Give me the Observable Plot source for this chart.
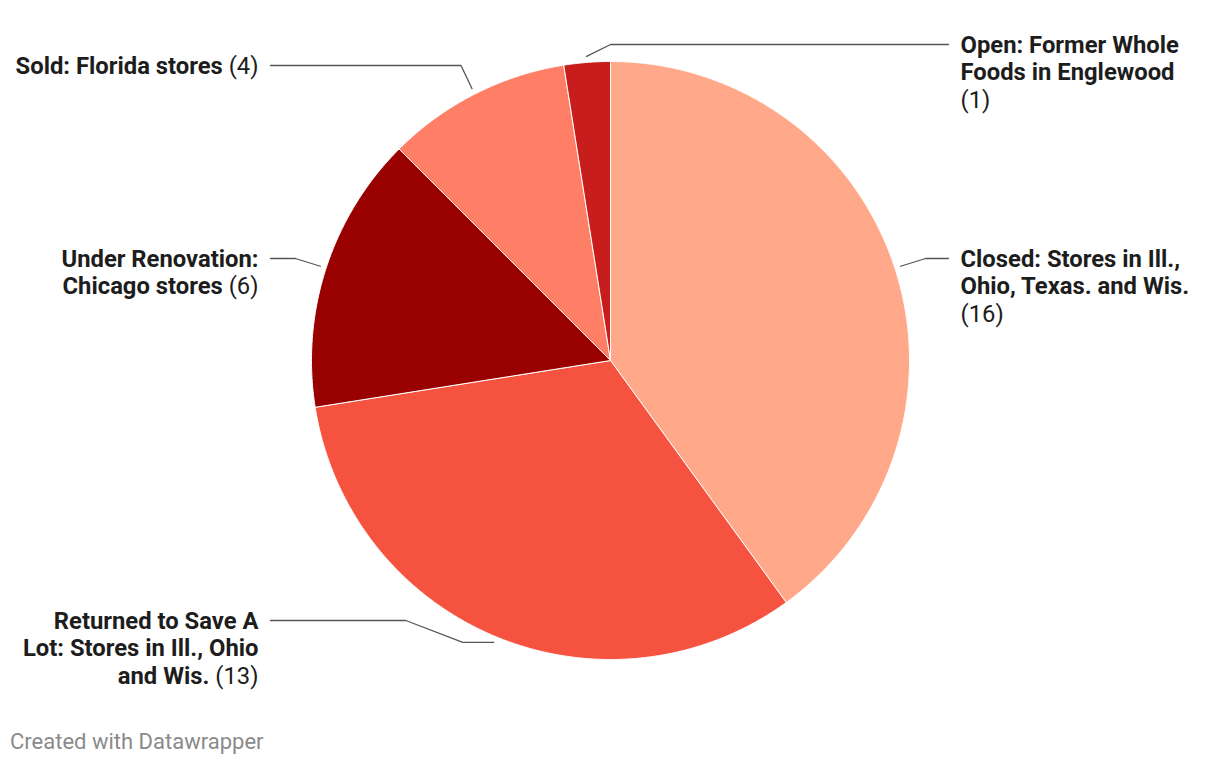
<!DOCTYPE html>
<html><head><meta charset="utf-8">
<script src="https://cdn.jsdelivr.net/npm/d3@7"></script>
<script src="https://cdn.jsdelivr.net/npm/@observablehq/plot@0.6"></script>
<style>
html,body{margin:0;padding:0;background:#fff;}
#wrap{position:relative;width:1220px;height:766px;font-family:Roboto,sans-serif;}
#caption{position:absolute;left:10px;top:729px;font-size:22px;line-height:26px;color:#8a8a8a;font-family:Roboto,sans-serif;}
</style></head><body>
<div id="wrap"><div id="chart"></div><div id="caption">Created with Datawrapper</div></div>
<script>
// ---- data ----
const categories = [
  "Closed: Stores in Ill.,\nOhio, Texas. and Wis.",
  "Returned to Save A\nLot: Stores in Ill., Ohio\nand Wis.",
  "Under Renovation:\nChicago stores",
  "Sold: Florida stores",
  "Open: Former Whole\nFoods in Englewood"
];
const values = [16, 13, 6, 4, 1];
const valueOnNewLine = [true, false, false, false, true];
const colors = ["#ffa88a", "#f5533f", "#990000", "#ff7e66", "#c71e1d"];

// ---- layout ----
const W = 1220, H = 726, cx = 610, cy = 360, R = 299;
const side = ["right", "left", "left", "left", "right"];
const labelY = [258, 620, 258, 65, 44];
const leaderStub = [0, 31, 0, 0, 0];       // horizontal stub from pie edge before bending
const leaderBend = [25, 57, 25, 11, 24];   // horizontal extent of the bend
const rightLineEnd = 948, leftLineEnd = 270, rightTextX = 960, leftTextX = 258;
const fontSize = 23.8, lineGap = 28;

const rows = categories.map((c, i) => ({
  category: c, value: values[i], color: colors[i], side: side[i],
  label: c + (valueOnNewLine[i] ? "\n" : " ") + "(" + values[i] + ")"
}));
const arcs = d3.pie().sort(null).value(d => d.value)(rows);

const polar = (a, r) => ({x: cx + r * Math.sin(a), y: cy - r * Math.cos(a)});

const slices = arcs.map(a => {
  const n = Math.max(2, Math.ceil((a.endAngle - a.startAngle) / (Math.PI / 720)));
  const pts = [{x: cx, y: cy}];
  for (let i = 0; i <= n; i++) pts.push(polar(a.startAngle + (a.endAngle - a.startAngle) * i / n, R));
  pts.push({x: cx, y: cy});
  return {pts, color: a.data.color};
});

const leaders = arcs.map((a, i) => {
  const mid = (a.startAngle + a.endAngle) / 2;
  const s = polar(mid, R + 6);
  const dir = side[i] === "right" ? 1 : -1;
  const pts = [s];
  let x = s.x;
  if (leaderStub[i]) { x += dir * leaderStub[i]; pts.push({x, y: s.y}); }
  x += dir * leaderBend[i];
  pts.push({x, y: labelY[i]});
  pts.push({x: dir > 0 ? rightLineEnd : leftLineEnd, y: labelY[i]});
  return pts;
});

const lh = lineGap / fontSize;
const textRows = rows.map((r, i) => ({
  label: r.label, side: r.side,
  x: r.side === "right" ? rightTextX : leftTextX,
  y: labelY[i] + 8 - 0.71 * lh * fontSize
}));

const textOpts = {
  x: "x", y: "y", text: "label", fontSize, fontWeight: "bold", fontFamily: "Roboto",
  lineHeight: lh, lineAnchor: "top", fill: "#1d1d1d"
};

const chart = Plot.plot({
  width: W, height: H, margin: 0,
  x: {domain: [0, W], range: [0, W], axis: null},
  y: {domain: [0, H], range: [0, H], axis: null},
  style: {background: "#fff", fontFamily: "Roboto"},
  marks: [
    ...slices.map(s => Plot.line(s.pts, {x: "x", y: "y", fill: s.color, stroke: "#fff", strokeWidth: 1, strokeLinejoin: "round"})),
    ...leaders.map(p => Plot.line(p, {x: "x", y: "y", stroke: "#555", strokeWidth: 1.3})),
    Plot.text(textRows.filter(d => d.side === "right"), {...textOpts, textAnchor: "start"}),
    Plot.text(textRows.filter(d => d.side === "left"), {...textOpts, textAnchor: "end"})
  ]
});
document.getElementById("chart").appendChild(chart);

// mixed weights: the count in parentheses is set in regular weight
const splitNode = node => {
  const t = node.textContent;
  const m = t.match(/^(.*?)(\(\d+\))$/);
  if (!m) return;
  if (!m[1]) { node.setAttribute("font-weight", "normal"); return; }
  node.textContent = m[1];
  const ts = document.createElementNS("http://www.w3.org/2000/svg", "tspan");
  ts.setAttribute("font-weight", "normal");
  ts.textContent = m[2];
  node.appendChild(ts);
};
chart.querySelectorAll('g[aria-label="text"] text').forEach(el => {
  const spans = el.querySelectorAll("tspan");
  if (spans.length) spans.forEach(splitNode); else splitNode(el);
});
</script>
</body></html>
